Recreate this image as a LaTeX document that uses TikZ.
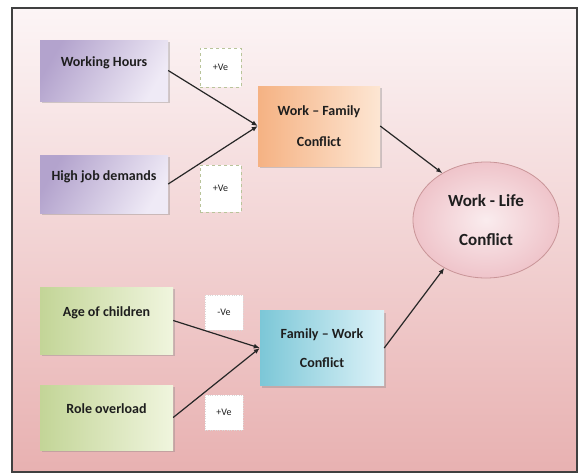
\documentclass[tikz,border=0pt]{standalone}
\usepackage{fontspec}
\setmainfont{Carlito}
\usetikzlibrary{shadows,arrows.meta,shapes.geometric}
\definecolor{bgtop}{HTML}{FCF5F6}
\definecolor{bgmid}{HTML}{F3D9DA}
\definecolor{bgbot}{HTML}{E8B1B1}
\definecolor{purpleD}{HTML}{B3A3CD}
\definecolor{purpleL}{HTML}{EFEAF6}
\definecolor{orangeD}{HTML}{F5B283}
\definecolor{orangeL}{HTML}{FDE6D3}
\definecolor{greenD}{HTML}{C3D597}
\definecolor{greenL}{HTML}{F0F5DE}
\definecolor{blueD}{HTML}{7CC7D7}
\definecolor{blueL}{HTML}{DDF2F8}
\definecolor{pinkD}{HTML}{EFC4CA}
\definecolor{pinkL}{HTML}{FAECEE}
\definecolor{pinkB}{HTML}{C99598}
\definecolor{dashG}{HTML}{B9C49A}
\definecolor{txt}{HTML}{1E1E1E}
\tikzset{
  box/.style={rectangle, font=\bfseries\fontsize{14}{31}\selectfont, text=txt, align=center,
    drop shadow={opacity=0.35, shadow xshift=1.5pt, shadow yshift=-2pt}},
  raised/.style={text depth=17pt},
  purplebox/.style={box, shading=axis, left color=purpleD, right color=purpleL, shading angle=60},
  orangebox/.style={box, left color=orangeD, right color=orangeL},
  greenbox/.style={box, left color=greenD, right color=greenL},
  bluebox/.style={box, left color=blueD, right color=blueL},
  signbox/.style={rectangle, fill=white, font=\fontsize{10}{12}\selectfont, text=txt},
  conn/.style={line width=1.2pt, draw=black!85, -{Latex[length=6pt,width=5pt]}},
}
\begin{document}
\begin{tikzpicture}[x=1pt,y=-1pt]
\useasboundingbox (0,0) rectangle (581,474);
\fill[white] (0,0) rectangle (581,474);
\shade[top color=bgtop, middle color=bgmid, bottom color=bgbot] (12,8) rectangle (577,472);
\draw[line width=1.2pt, black!75] (12,8) rectangle (577,472);

\node[purplebox, raised, minimum width=128pt, minimum height=61pt] (wh) at (104,70.5) {Working Hours};
\node[purplebox, raised, minimum width=128pt, minimum height=58pt] (hjd) at (104,184) {High job demands};
\node[orangebox, minimum width=122pt, minimum height=80pt] (wfc) at (319,126) {Work -- Family\\Conflict};
\node[ellipse, draw=pinkB, line width=0.8pt, inner color=pinkL, outer color=pinkD,
      minimum width=146pt, minimum height=116pt, inner sep=0pt, font=\bfseries\fontsize{17}{39}\selectfont, text=txt, align=center] (wlc) at (486,220) {Work - Life\\Conflict};
\node[greenbox, raised, minimum width=133pt, minimum height=67pt] (aoc) at (106.5,320.5) {Age of children};
\node[greenbox, raised, minimum width=133pt, minimum height=65pt] (ro) at (106.5,417.5) {Role overload};
\node[bluebox, minimum width=124pt, minimum height=75pt, font=\bfseries\fontsize{14}{29}\selectfont] (fwc) at (322,348) {Family -- Work\\Conflict};

\node[signbox, draw=dashG, dashed, minimum width=41pt, minimum height=39pt] (s1) at (220.5,67.5) {+Ve};
\node[signbox, draw=dashG, dashed, minimum width=41pt, minimum height=47pt] (s2) at (220.5,188.5) {+Ve};
\node[signbox, draw=black!15, dotted, minimum width=38pt, minimum height=35pt] (s3) at (224,312.5) {-Ve};
\node[signbox, draw=black!15, dotted, minimum width=38pt, minimum height=35pt] (s4) at (224,412.5) {+Ve};

\draw[conn] (wh.east) -- (wfc.west);
\draw[conn] (hjd.east) -- (wfc.west);
\draw[conn] (wfc.east) -- (wlc.133);
\draw[conn] (aoc.east) -- (fwc.west);
\draw[conn] (ro.east) -- (fwc.west);
\draw[conn] (fwc.east) -- (wlc.229);
\end{tikzpicture}
\end{document}
